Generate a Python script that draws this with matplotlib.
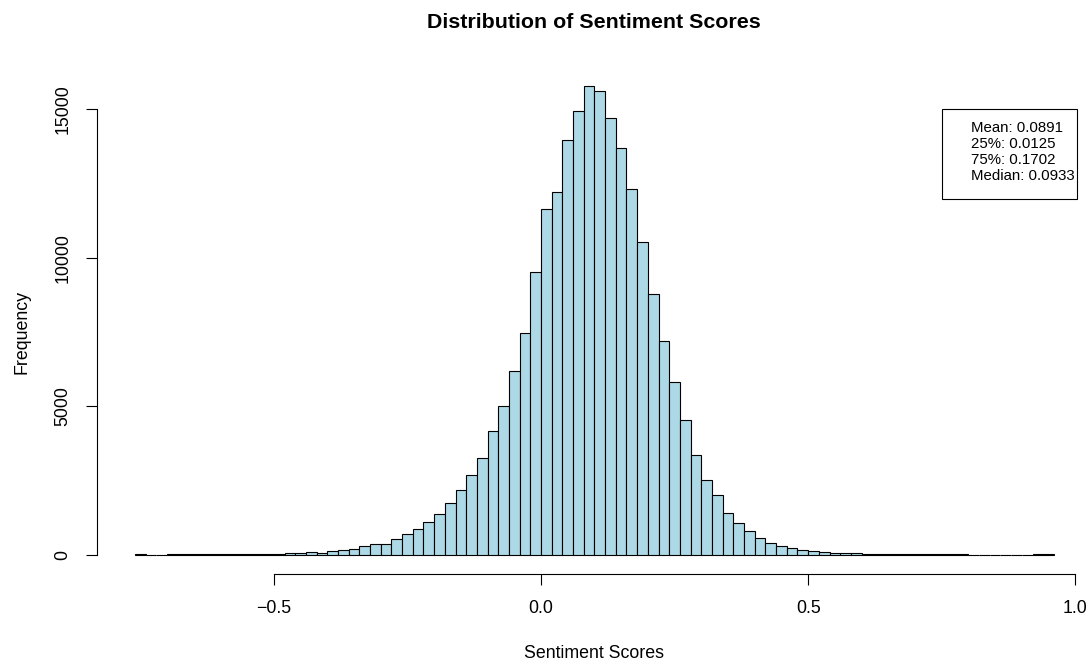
import numpy as np
import matplotlib
matplotlib.use("Agg")
import matplotlib.pyplot as plt
from matplotlib.patches import Rectangle

plt.rcParams["font.family"] = ["Liberation Sans", "DejaVu Sans"]

# histogram bins: width 0.02 from -0.76 to 0.96
bin_start = -0.76
bin_width = 0.02
counts = [
    1, 0, 0, 1, 1, 2, 2, 3, 4, 6,
    9, 15, 20, 30, 35, 45, 101, 67, 123, 157,
    202, 292, 337, 370, 516, 684, 875, 1088, 1369, 1739,
    2188, 2670, 3242, 4162, 4993, 6171, 7450, 9503, 11657, 12229,
    13957, 14956, 15797, 15629, 14698, 13688, 12330, 10513, 8763, 7181,
    5801, 4521, 3343, 2524, 1997, 1414, 1077, 785, 572, 404,
    303, 224, 157, 123, 101, 67, 50, 40, 25, 20,
    12, 10, 7, 5, 4, 3, 2, 1, 0, 0,
    0, 0, 0, 0, 1, 1,
]
stats_labels = ["Mean: 0.0891", "25%: 0.0125", "75%: 0.1702", "Median: 0.0933"]
x_ticks = [-0.5, 0.0, 0.5, 1.0]
x_ticklabels = ["\u22120.5", "0.0", "0.5", "1.0"]
y_ticks = [0, 5000, 10000, 15000]

W, H = 1089, 661
fig = plt.figure(figsize=(W / 100, H / 100), dpi=100)


def fx(px):
    return px / W


def fy(py):
    return 1 - py / H


left_px, right_px = 96.7, 1089
top_px, bottom_px = 66.9, 574
ax = fig.add_axes([fx(left_px), fy(bottom_px), fx(right_px - left_px), (bottom_px - top_px) / H])

edges = bin_start + bin_width * np.arange(len(counts) + 1)
ax.bar(edges[:-1], counts, width=bin_width, align="edge",
       color="#ADD8E6", edgecolor="black", linewidth=0.8)

# data -> pixel mapping taken from reference: 0 at 541px, 534.3 px per unit
ax.set_xlim((left_px - 541) / 534.3, (right_px - 541) / 534.3)
ppc = (554.5 - 109.3) / 15000
ax.set_ylim(-(bottom_px - 554.5) / ppc, (554.5 - top_px) / ppc)

for s in ["top", "right"]:
    ax.spines[s].set_visible(False)
ax.spines["bottom"].set_bounds(-0.5, 1.0)
ax.spines["left"].set_bounds(0, 15000)
for s in ["bottom", "left"]:
    ax.spines[s].set_linewidth(0.8)

ax.set_xticks(x_ticks)
ax.set_xticklabels(x_ticklabels)
ax.set_yticks(y_ticks)
ax.set_yticklabels([str(v) for v in y_ticks], rotation=90, va="center")
ax.tick_params(axis="both", length=8, width=0.8, labelsize=12.8)
ax.tick_params(axis="x", pad=11)
ax.tick_params(axis="y", pad=10)

fig.text(fx(594), fy(22.5), "Distribution of Sentiment Scores",
         ha="center", va="center", fontsize=15.4, fontweight="bold")
fig.text(fx(594), fy(654), "Sentiment Scores", ha="center", va="center", fontsize=12.8)
fig.text(fx(22), fy((109.3 + 554.5) / 2), "Frequency", ha="center", va="center",
         rotation=90, fontsize=12.8)

# stats box
fig.patches.append(Rectangle((fx(942.3), fy(199.3)), fx(1077 - 942.3), (199.3 - 109) / H,
                             transform=fig.transFigure, fill=False,
                             edgecolor="black", linewidth=0.8))
for i, lab in enumerate(stats_labels):
    fig.text(fx(970.7), fy(128.3 + 15.9 * i), lab, ha="left", va="center", fontsize=10.8)

fig.savefig("out.png", dpi=100)
